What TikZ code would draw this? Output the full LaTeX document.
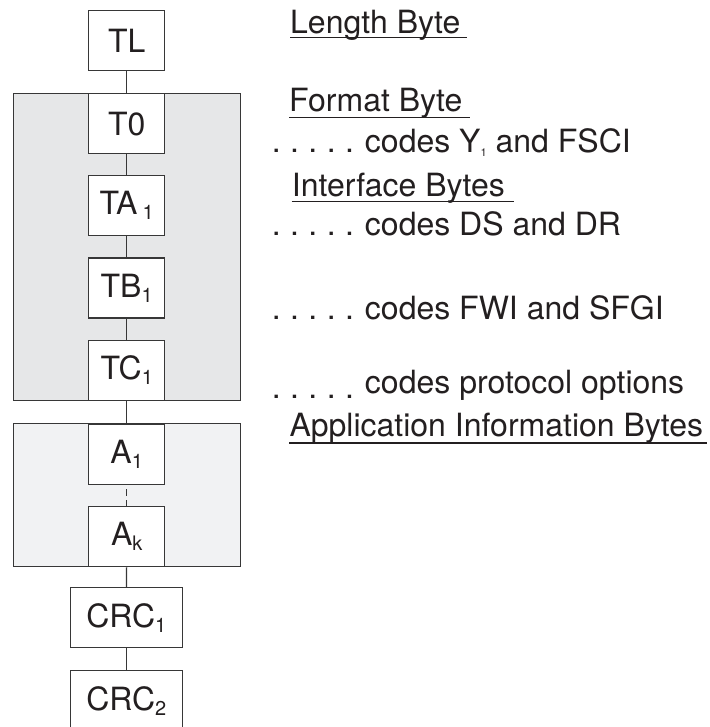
\documentclass[tikz,border=0pt]{standalone}
\usepackage{fontspec}
\setmainfont{TeX Gyre Heros}
\newcommand{\sbx}[1]{\raisebox{-5pt}{\fontsize{20}{20}\selectfont #1}}
\newcommand{\tinysb}[1]{\raisebox{-4pt}{\fontsize{11}{11}\selectfont #1}}
\newcommand{\leaddots}{.\hspace{9.4pt}.\hspace{9.4pt}.\hspace{9.4pt}.\hspace{9.4pt}.\hspace{11pt}}
\definecolor{ink}{RGB}{35,31,32}
\definecolor{lin}{RGB}{55,55,55}
\begin{document}
\begin{tikzpicture}[x=1pt,y=-1pt,
  ln/.style={draw=lin, line width=1.4pt},
  bx/.style={draw=lin, line width=1.3pt, fill=white, minimum width=76pt, minimum height=60pt, inner sep=0pt, text=ink, font=\fontsize{32}{32}\selectfont},
  wbx/.style={bx, minimum width=112pt},
  grp/.style={draw=lin, line width=1.3pt},
  txt/.style={anchor=base west, inner sep=0pt, font=\fontsize{32}{32}\selectfont, text=ink},
  ul/.style={draw=ink, line width=1.3pt}]
\useasboundingbox (0,0) rectangle (709,727);
% group backgrounds
\draw[grp, fill={rgb,255:red,230;green,231;blue,232}] (13.3,93.7) rectangle (240.3,400.3);
\draw[grp, fill={rgb,255:red,241;green,242;blue,243}] (13.3,423.7) rectangle (240.3,566.7);
% boxes
\node[bx] (tl) at (126.7,40.7) {TL};
\node[bx] (t0) at (126.7,123.7) {T0};
\node[bx] (ta) at (126.7,205.7) {TA\,\sbx{1}};
\node[bx] (tb) at (126.7,288) {TB\sbx{1}};
\node[bx] (tc) at (126.7,370.3) {TC\sbx{1}};
\node[bx] (a1) at (126.7,454.5) {A\sbx{1}};
\node[bx] (ak) at (126.7,536.7) {A\sbx{k}};
\node[wbx] (c1) at (126.3,617.7) {CRC\sbx{1}};
\node[wbx] (c2) at (126.3,700.7) {CRC\sbx{2}};
% connectors
\draw[ln] (tl) -- (t0);
\draw[ln] (t0) -- (ta);
\draw[ln] (ta) -- (tb);
\draw[ln] (tb) -- (tc);
\draw[ln] (tc) -- (a1);
\draw[ln, dash pattern=on 7pt off 4pt, dash phase=-4pt] (a1) -- (ak);
\draw[ln] (ak) -- (c1);
\draw[ln] (c1) -- (c2);
% texts
\node[txt] (lb) at (290,33.3) {Length Byte};
\draw[ul] ([yshift=-4pt]lb.base west) -- ++(177.3,0);
\node[txt] (fb) at (289,111.7) {Format Byte};
\draw[ul] ([yshift=-6pt]fb.base west) -- ++(181,0);
\node[txt] (fy) at (271.7,152.7) {\leaddots codes Y\tinysb{1} and FSCI};
\node[txt] (ib) at (291.7,196.5) {Interface Bytes};
\draw[ul] ([yshift=-5pt]ib.base west) -- ++(222,0);
\node[txt] (ds) at (271.7,235) {\leaddots codes DS and DR};
\node[txt] (fw) at (271.7,319.3) {\leaddots codes FWI and SFGI};
\node[txt] (po) at (271.7,398.3) {\leaddots \raisebox{5pt}{codes protocol options}};
\node[txt] (ai) at (289.3,436) {Application Information Bytes};
\draw[ul] ([yshift=-7pt]ai.base west) -- ++(417.4,0);
\end{tikzpicture}
\end{document}
